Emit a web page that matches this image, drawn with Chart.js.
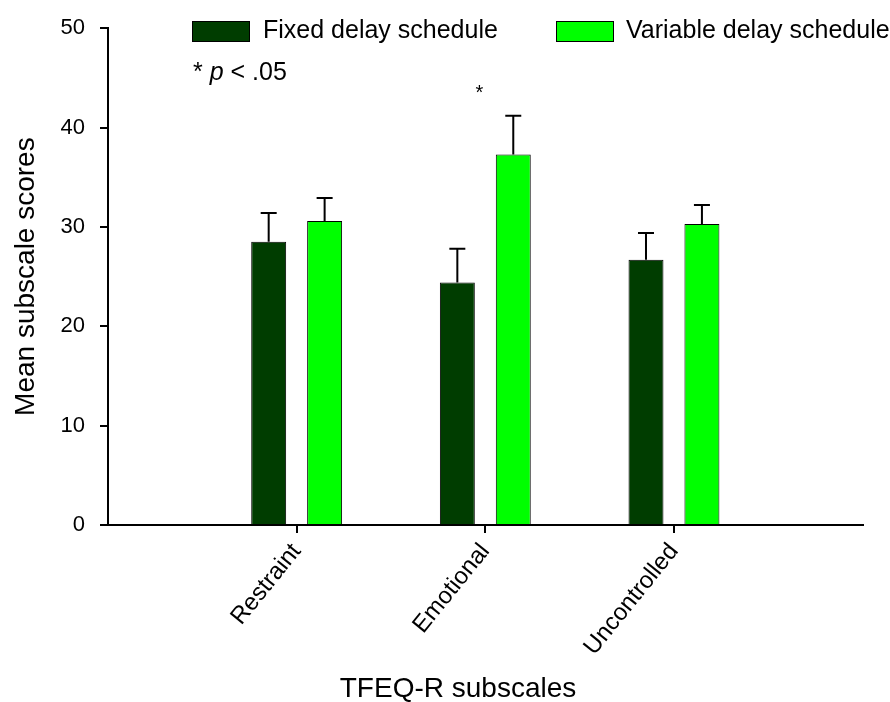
<!DOCTYPE html>
<html>
<head>
<meta charset="utf-8">
<script src="https://cdn.jsdelivr.net/npm/chart.js@4.4.1/dist/chart.umd.min.js"></script>
<style>
  html, body { margin: 0; padding: 0; background: #fff; }
  #wrap { width: 890px; height: 702px; }
</style>
</head>
<body>
<div id="wrap"><canvas id="grafico"></canvas></div>
<script>
// Datos (las posiciones vacías dejan margen a los lados)
const categorias = ['', 'Restraint', 'Emotional', 'Uncontrolled', ''];
const mediasFijo = [null, 28.5, 24.4, 26.7, null];
const mediasVariable = [null, 30.6, 37.3, 30.3, null];
const errorFijo = [null, 2.9, 3.4, 2.7, null];
const errorVariable = [null, 2.3, 3.9, 1.9, null];
const ticksY = [0, 10, 20, 30, 40, 50];
const nombresSeries = ['Fixed delay schedule', 'Variable delay schedule'];
const tituloX = 'TFEQ-R subscales';
const categoriaSignificativa = 'Emotional';
const alturaAsterisco = 43.8;

const fuente = '"Liberation Sans", Arial, sans-serif';
const verdeOscuro = '#003d00';
const verdeClaro = '#00ff00';

// Barras de error (solo hacia arriba) sobre cada barra
const pluginErrores = {
    id: 'errores',
    afterDatasetsDraw(chart) {
        const ctx = chart.ctx;
        const escalaY = chart.scales.y;
        const errores = [errorFijo, errorVariable];
        ctx.save();
        ctx.strokeStyle = '#000';
        ctx.lineWidth = 2;
        chart.data.datasets.forEach((ds, i) => {
            const meta = chart.getDatasetMeta(i);
            meta.data.forEach((barra, j) => {
                if (ds.data[j] == null) return;
                const yTope = escalaY.getPixelForValue(ds.data[j] + errores[i][j]);
                ctx.beginPath();
                ctx.moveTo(barra.x, barra.y);
                ctx.lineTo(barra.x, yTope);
                ctx.moveTo(barra.x - 8, yTope);
                ctx.lineTo(barra.x + 8, yTope);
                ctx.stroke();
            });
        });
        ctx.restore();
    }
};

// Leyenda, anotaciones y título del eje x
const pluginLeyenda = {
    id: 'leyenda',
    afterDraw(chart) {
        const ctx = chart.ctx;
        ctx.save();
        ctx.font = '25px ' + fuente;
        ctx.textBaseline = 'middle';
        const cajas = [[192, 263], [556, 626]];
        chart.data.datasets.forEach((ds, i) => {
            const [xCaja, xTexto] = cajas[i];
            ctx.fillStyle = ds.backgroundColor;
            ctx.fillRect(xCaja, 21, 57, 20);
            ctx.strokeStyle = '#000';
            ctx.lineWidth = 1;
            ctx.strokeRect(xCaja + 0.5, 21.5, 57, 20);
            ctx.fillStyle = '#000';
            ctx.fillText(ds.label, xTexto, 31);
        });

        // "* p < .05"
        let x = 193;
        ctx.font = '25px ' + fuente;
        ctx.fillText('* ', x, 73);
        x += ctx.measureText('* ').width;
        ctx.font = 'italic 25px ' + fuente;
        ctx.fillText('p', x, 73);
        x += ctx.measureText('p').width;
        ctx.font = '25px ' + fuente;
        ctx.fillText(' < .05', x, 73);

        // asterisco de significancia
        const xA = chart.scales.x.getPixelForValue(categorias.indexOf(categoriaSignificativa)) - 6;
        const yA = chart.scales.y.getPixelForValue(alturaAsterisco);
        ctx.font = '20px ' + fuente;
        ctx.textAlign = 'center';
        ctx.fillText('*', xA, yA + 4);

        // título del eje x (algo desplazado a la izquierda como en el original)
        ctx.font = '28px ' + fuente;
        ctx.fillText(tituloX, 458, 689);
        ctx.restore();
    }
};

new Chart(document.getElementById('grafico'), {
    type: 'bar',
    data: {
        labels: categorias,
        datasets: [
            {
                label: nombresSeries[0],
                data: mediasFijo,
                backgroundColor: verdeOscuro,
                borderColor: '#000',
                borderWidth: 1
            },
            {
                label: nombresSeries[1],
                data: mediasVariable,
                backgroundColor: verdeClaro,
                borderColor: '#000',
                borderWidth: 1
            }
        ]
    },
    options: {
        responsive: true,
        maintainAspectRatio: false,
        animation: false,
        datasets: {
            bar: {
                categoryPercentage: 0.593,
                barPercentage: 0.625
            }
        },
        layout: { padding: { top: 25, right: 27, left: 0, bottom: 0 } },
        plugins: {
            legend: { display: false },
            tooltip: { enabled: false }
        },
        scales: {
            x: {
                type: 'category',
                offset: false,
                afterFit: s => { s.height = 177; },
                border: { display: true, color: '#000', width: 2 },
                grid: {
                    offset: false,
                    drawOnChartArea: false,
                    drawTicks: true,
                    tickLength: 8,
                    lineWidth: 2,
                    color: c => (categorias[c.index] ? '#000' : 'rgba(0,0,0,0)')
                },
                ticks: {
                    autoSkip: false,
                    minRotation: 51,
                    maxRotation: 51,
                    padding: 5,
                    color: '#000',
                    font: { family: fuente, size: 24 }
                }
            },
            y: {
                min: 0,
                max: 50,
                afterFit: s => { s.width = 108; },
                afterBuildTicks: s => { s.ticks = ticksY.map(v => ({ value: v })); },
                border: { display: true, color: '#000', width: 2 },
                grid: {
                    drawOnChartArea: false,
                    drawTicks: true,
                    tickLength: 8,
                    lineWidth: 2,
                    color: '#000'
                },
                ticks: {
                    padding: 15,
                    color: '#000',
                    font: { family: fuente, size: 22 }
                },
                title: {
                    display: true,
                    text: 'Mean subscale scores',
                    color: '#000',
                    font: { family: fuente, size: 28 },
                    padding: { top: 9, bottom: 0 }
                }
            }
        }
    },
    plugins: [pluginErrores, pluginLeyenda]
});
</script>
</body>
</html>
